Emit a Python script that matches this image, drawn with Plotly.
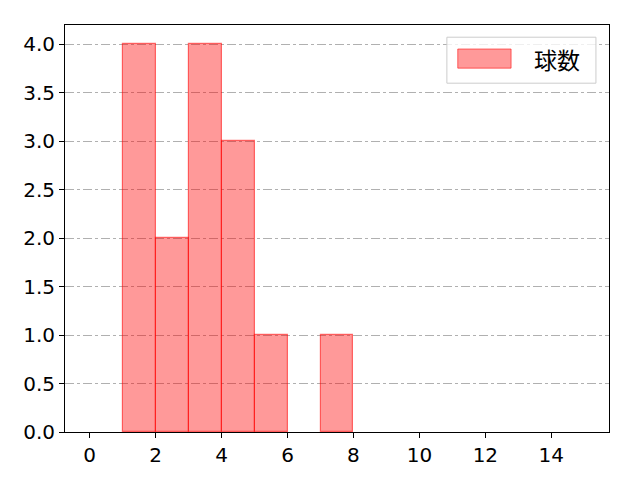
import plotly.graph_objects as go

# histogram bins (width 1) and counts of pitches
bin_left = list(range(0, 15))
counts = [0, 4, 2, 4, 3, 1, 0, 1, 0, 0, 0, 0, 0, 0, 0]
series_name = "球数"
x_ticks = [0, 2, 4, 6, 8, 10, 12, 14]
y_ticks = [0.0, 0.5, 1.0, 1.5, 2.0, 2.5, 3.0, 3.5, 4.0]

tick_font = "DejaVu Sans"
cjk_font = "Noto Sans CJK JP"

fig = go.Figure(go.Bar(
    x=[b + 0.5 for b in bin_left],
    y=[c if c > 0 else None for c in counts],
    width=1,
    name=series_name,
    marker=dict(color="rgba(255,0,0,0.4)",
                line=dict(color="rgba(255,0,0,0.55)", width=1.2)),
    showlegend=False,
))

# legend drawn by hand to get the wide matplotlib patch
fig.add_shape(type="rect", xref="paper", yref="paper",
              x0=0.702, x1=0.976, y0=0.857, y1=0.970,
              line=dict(color="#cccccc", width=1), fillcolor="rgba(255,255,255,0.8)")
fig.add_shape(type="rect", xref="paper", yref="paper",
              x0=0.722, x1=0.820, y0=0.894, y1=0.941,
              line=dict(color="rgba(255,0,0,0.55)", width=1), fillcolor="rgba(255,0,0,0.4)")
fig.add_annotation(text=series_name, xref="paper", yref="paper", x=0.858, y=0.916,
                   xanchor="left", yanchor="middle", showarrow=False,
                   font=dict(family=cjk_font, size=23, color="black"))

# the page body adds an 8px offset, so margins are shifted to match
fig.update_layout(
    width=640, height=480,
    margin=dict(l=57, r=39, t=17, b=56),
    paper_bgcolor="white", plot_bgcolor="white",
    font=dict(family=tick_font, size=20, color="black"),
    bargap=0,
)
fig.update_xaxes(range=[-0.75, 15.75], tickvals=x_ticks, showgrid=False, zeroline=False,
                 showline=True, linecolor="black", linewidth=1, mirror=True,
                 ticks="outside", ticklen=5, tickcolor="black")
fig.update_yaxes(range=[0, 4.2], tickvals=y_ticks, tickformat=".1f", zeroline=False,
                 showgrid=True, gridcolor="#b0b0b0", gridwidth=0.8, griddash="dashdot",
                 showline=True, linecolor="black", linewidth=1, mirror=True,
                 ticks="outside", ticklen=5, tickcolor="black")

fig.write_html("out.html")
